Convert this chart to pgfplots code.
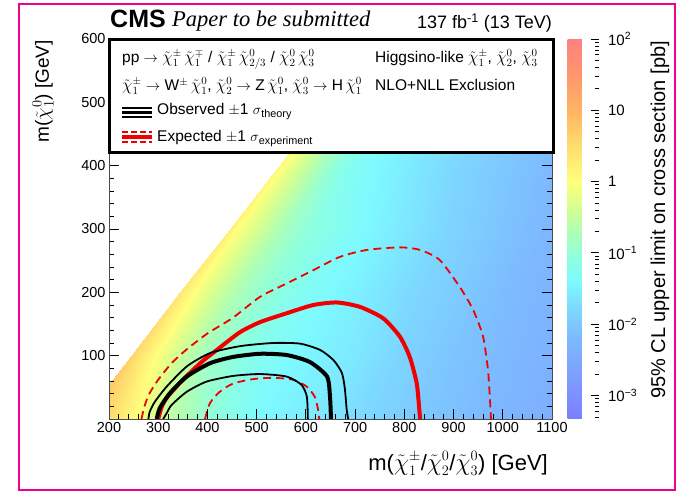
\documentclass[border=0pt]{standalone}
\usepackage{graphicx}
\usepackage{pgfplots}
\pgfplotsset{compat=1.18}
\usepackage{fontspec}
\setmainfont{Liberation Sans}
\newfontfamily\timesfont{Liberation Serif}
\newcommand{\ch}[2]{$\tilde{\mbox{\scalebox{1.18}{$\chi$}}}^{#1}_{#2}$}
\pgfplotsset{colormap={cms}{rgb255(0pt)=(125,125,255); rgb255(53pt)=(125,155,255); rgb255(113pt)=(125,185,255); rgb255(153pt)=(125,215,255); rgb255(193pt)=(125,250,255); rgb255(223pt)=(140,255,225); rgb255(263pt)=(175,255,180); rgb255(303pt)=(220,255,140); rgb255(333pt)=(255,255,125); rgb255(383pt)=(255,220,110); rgb255(433pt)=(255,180,100); rgb255(483pt)=(255,150,110); rgb255(533pt)=(255,128,128)}}
\definecolor{cmsred}{RGB}{240,0,0}
\begin{document}
\begin{tikzpicture}
\path[use as bounding box] (0pt,0pt) rectangle (679pt,493pt);
\begin{axis}[
  scale only axis, width=443pt, height=380pt,
  at={(109pt,74pt)}, anchor=south west,
  xmin=200, xmax=1100, ymin=0, ymax=600,
  xtick={200,300,...,1100},
  ytick={0,100,...,600},
  yticklabels={{},100,200,300,400,500,600},
  minor x tick num=4, minor y tick num=4,
  tick align=inside,
  major tick length=10pt, minor tick length=5pt,
  tick style={black, line width=0.8pt},
  axis line style={black!70, line width=0.8pt},
  /pgf/number format/assume math mode=true,
  /pgf/number format/1000 sep={},
  tick label style={font=\fontsize{14.5}{17}\selectfont},
  colormap name=cms,
  point meta min=-3.33, point meta max=2,
  colorbar right,
  colorbar style={
    at={(parent axis.north east)}, anchor=north west, xshift=7pt,
    width=31pt,
    ytick={-3,-2,-1,0,1,2},
    yticklabels={10\textsuperscript{−3},10\textsuperscript{−2},10\textsuperscript{−1},1,10,10\textsuperscript{2}},
    minor ytick={-3.301,-3.222,-3.155,-3.097,-3.046,-2.699,-2.523,-2.398,-2.301,-2.222,-2.155,-2.097,-2.046,-1.699,-1.523,-1.398,-1.301,-1.222,-1.155,-1.097,-1.046,-0.699,-0.523,-0.398,-0.301,-0.222,-0.155,-0.097,-0.046,0.301,0.477,0.602,0.699,0.778,0.845,0.903,0.954,1.301,1.477,1.602,1.699,1.778,1.845,1.903,1.954},
    ytick pos=right, yticklabel pos=right,
    tick align=inside,
    major tick length=8pt, minor tick length=4pt,
    axis line style={draw=none},
    yticklabel style={font=\fontsize{15}{18}\selectfont, xshift=6pt},
  },
  axis on top,
]
\addplot[surf, shader=interp, mesh/cols=13, point meta=explicit] table[meta=c] {
x y c
145 0 1.0
165 0 0.8
200 0 0.5
250 0 0.05
300 0 -0.4
400 0 -1.0
500 0 -1.4
600 0 -1.55
700 0 -1.75
800 0 -1.95
900 0 -2.1
1000 0 -2.25
1100 0 -2.4

245 100 0.6
265 100 0.35
300 100 -0.05
350 100 -0.5
400 100 -0.85
500 100 -1.25
600 100 -1.45
700 100 -1.6
800 100 -1.85
900 100 -2.05
1000 100 -2.2
1100 100 -2.35
1200 100 -2.5

345 200 0.35
365 200 0.1
400 200 -0.25
450 200 -0.65
500 200 -0.95
600 200 -1.3
700 200 -1.5
800 200 -1.75
900 200 -1.95
1000 200 -2.15
1100 200 -2.3
1200 200 -2.45
1300 200 -2.6

445 300 0.2
465 300 -0.05
500 300 -0.35
550 300 -0.75
600 300 -1.05
700 300 -1.35
800 300 -1.6
900 300 -1.85
1000 300 -2.05
1100 300 -2.25
1200 300 -2.4
1300 300 -2.5
1400 300 -2.6

545 400 0.1
565 400 -0.15
600 400 -0.5
650 400 -1.0
700 400 -1.3
800 400 -1.55
900 400 -1.8
1000 400 -2.0
1100 400 -2.2
1200 400 -2.35
1300 400 -2.45
1400 400 -2.55
1500 400 -2.65

645 500 0.05
665 500 -0.2
700 500 -0.6
750 500 -1.1
800 500 -1.35
900 500 -1.6
1000 500 -1.85
1100 500 -2.05
1200 500 -2.25
1300 500 -2.4
1400 500 -2.5
1500 500 -2.6
1600 500 -2.7

745 600 0.0
765 600 -0.3
800 600 -0.7
850 600 -1.2
900 600 -1.4
1000 600 -1.65
1100 600 -1.9
1200 600 -2.1
1300 600 -2.3
1400 600 -2.45
1500 600 -2.55
1600 600 -2.65
1700 600 -2.75
};
% expected +1 sigma (dashed)
\addplot[cmsred, line width=1.8pt, dash pattern=on 8pt off 5pt, smooth, tension=0.4] coordinates {
(266,0) (272,20) (282,40) (300,62) (327,88) (358,110) (400,135) (452,160) (507,193) (561,214) (615,235) (669,256) (724,267) (791,271) (832,267) (872,251) (913,208) (940,172) (960,130) (970,77) (974,30) (976,0)};
% expected -1 sigma (dashed)
\addplot[cmsred, line width=1.8pt, dash pattern=on 8pt off 5pt, smooth, tension=0.4] coordinates {
(395,0) (405,25) (425,43) (452,56) (493,63) (533,65) (574,62) (602,51) (618,35) (625,14) (627,0)};
% expected
\addplot[cmsred, line width=4pt, smooth, tension=0.4] coordinates {
(300,0) (307,19) (317,33) (344,57) (385,88) (419,109) (466,137) (507,153) (561,167) (615,180) (663,184) (710,177) (757,159) (791,130) (811,98) (825,57) (830,19) (832,0)};
% observed +1 sigma
\addplot[black, line width=1.8pt, smooth, tension=0.4] coordinates {
(280,0) (283,12) (293,27) (317,51) (358,83) (405,104) (466,115) (533,120) (588,119) (629,109) (656,93) (673,73) (679,49) (683,14) (686,0)};
% observed -1 sigma
\addplot[black, line width=1.8pt, smooth, tension=0.4] coordinates {
(310,0) (317,9) (327,22) (358,43) (398,59) (452,68) (507,71) (561,67) (591,54) (602,35) (604,0)};
% observed
\addplot[black, line width=4pt, smooth, tension=0.4] coordinates {
(297,0) (303,17) (324,41) (358,67) (405,88) (452,98) (507,103) (561,101) (608,90) (643,67) (649,35) (651,0)};
\end{axis}
% legend box
\draw[line width=3pt, fill=white] (109pt,340pt) rectangle (553pt,453pt);
\begin{scope}[every node/.style={inner sep=0pt, font=\fontsize{15.5}{18}\selectfont}]
\node[anchor=base west] at (122pt,430pt) {pp $\rightarrow$ \ch{\pm}{1}\,\ch{\mp}{1} / \ch{\pm}{1}\,\ch{0}{2/3} / \ch{0}{2}\,\ch{0}{3}};
\node[anchor=base west] at (375pt,430pt) {Higgsino-like \ch{\pm}{1}, \ch{0}{2}, \ch{0}{3}};
\node[anchor=base west] at (122pt,402pt) {\ch{\pm}{1} $\rightarrow$ W$^{\pm}$\,\ch{0}{1}, \ch{0}{2} $\rightarrow$ Z\,\ch{0}{1}, \ch{0}{3} $\rightarrow$ H\,\ch{0}{1}};
\node[anchor=base west] at (375pt,402pt) {NLO+NLL Exclusion};
\node[anchor=base west] at (157pt,378pt) {Observed $\pm$1 $\sigma$\textsubscript{theory}};
\node[anchor=base west] at (157pt,351pt) {Expected $\pm$1 $\sigma$\textsubscript{experiment}};
\end{scope}
\draw[black, line width=1.8pt] (122pt,385pt) -- (152pt,385pt);
\draw[black, line width=3pt] (122pt,380.5pt) -- (152pt,380.5pt);
\draw[black, line width=1.8pt] (122pt,376pt) -- (152pt,376pt);
\draw[cmsred, line width=1.8pt, dash pattern=on 6pt off 3pt] (122pt,361pt) -- (152pt,361pt);
\draw[cmsred, line width=3.5pt] (122pt,356pt) -- (152pt,356pt);
\draw[cmsred, line width=1.8pt, dash pattern=on 6pt off 3pt] (122pt,351pt) -- (152pt,351pt);
% header
\node[anchor=base west, inner sep=0pt, font=\fontsize{25}{30}\selectfont\bfseries] at (110pt,465pt) {CMS};
\node[anchor=base west, inner sep=0pt, font=\fontsize{22.5}{27}\selectfont\timesfont\itshape] at (172pt,466pt) {Paper to be submitted};
\node[anchor=base east, inner sep=0pt, font=\fontsize{18}{22}\selectfont] at (552pt,464pt) {137 fb\textsuperscript{-1} (13 TeV)};
% axis titles
\node[rotate=90, anchor=east, inner sep=0pt, font=\fontsize{19}{23}\selectfont] at (43pt,453pt) {m(\ch{0}{1}) [GeV]};
\node[anchor=base east, inner sep=0pt, font=\fontsize{22}{26}\selectfont] at (548pt,23pt) {m(\ch{\pm}{1}/\ch{0}{2}/\ch{0}{3}) [GeV]};
\node[rotate=90, inner sep=0pt, font=\fontsize{20}{24}\selectfont] at (660pt,273pt) {95\% CL upper limit on cross section [pb]};
% frame
\draw[magenta, line width=2pt] (19pt,3pt) rectangle (675pt,489pt);
\end{tikzpicture}
\end{document}
